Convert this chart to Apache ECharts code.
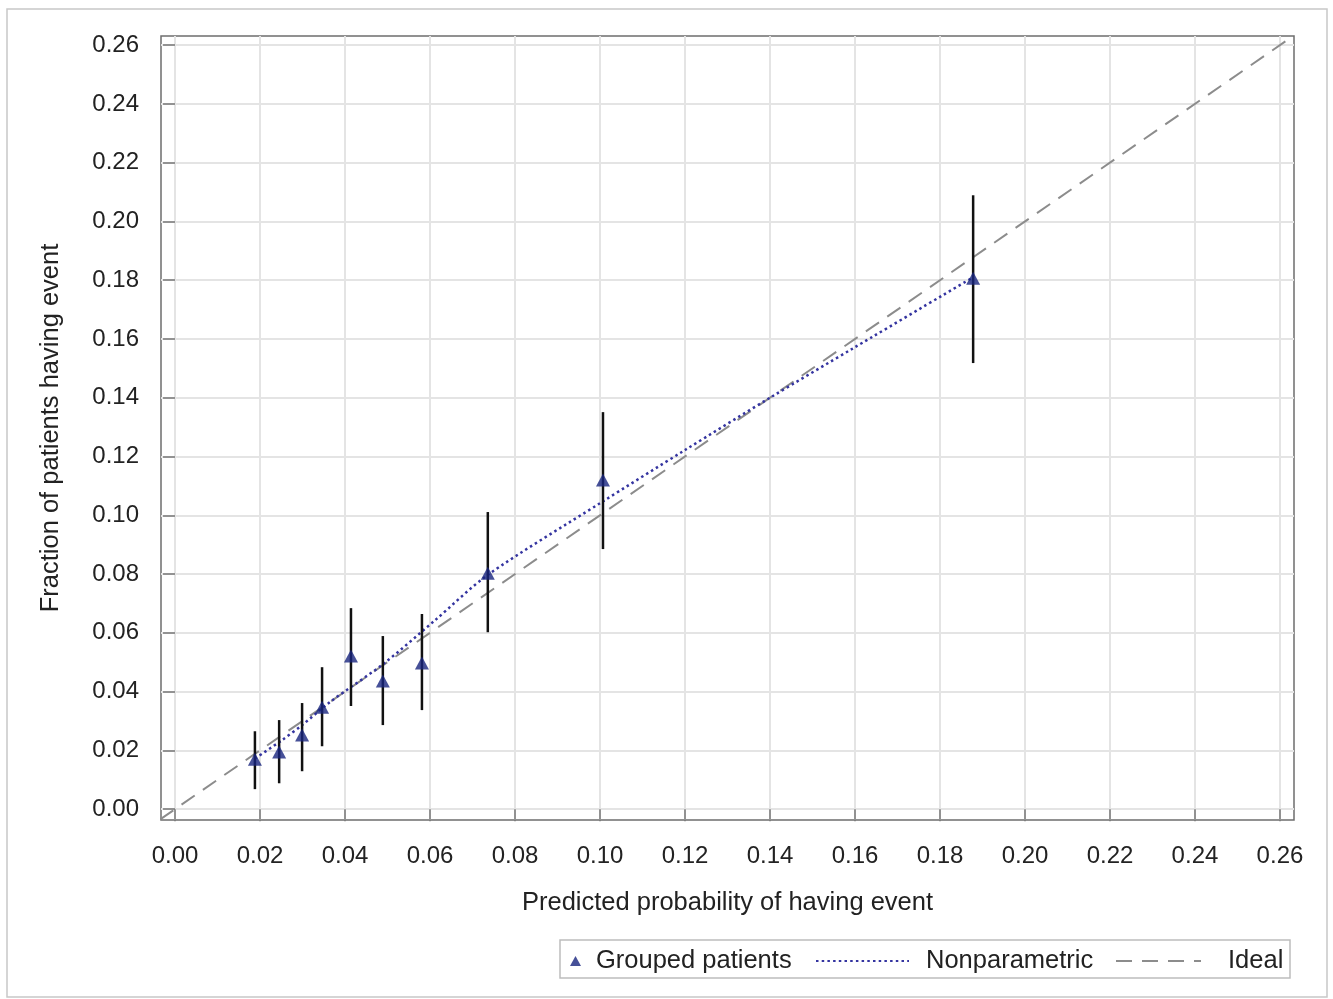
<!DOCTYPE html>
<html>
<head>
<meta charset="utf-8">
<script src="https://cdn.jsdelivr.net/npm/echarts@6/dist/echarts.min.js"></script>
<style>
  html, body { margin: 0; padding: 0; background: #fff; }
  #chart { width: 1333px; height: 999px; }
</style>
</head>
<body>
<div id="chart"></div>
<script>
// tick positions on both axes
var tickValues = [0, 0.02, 0.04, 0.06, 0.08, 0.10, 0.12, 0.14, 0.16, 0.18, 0.20, 0.22, 0.24, 0.26];

// grouped patients: predicted (x), observed fraction (y), CI limits
var groupX = [0.0188, 0.0245, 0.0299, 0.0346, 0.0414, 0.0489, 0.0581, 0.0736, 0.1007, 0.1878];
var groupY = [0.0170, 0.0194, 0.0252, 0.0347, 0.0521, 0.0436, 0.0497, 0.0803, 0.1120, 0.1807];
var groupLow = [0.0068, 0.0088, 0.0129, 0.0214, 0.0351, 0.0286, 0.0337, 0.0602, 0.0885, 0.1518];
var groupHigh = [0.0265, 0.0303, 0.0361, 0.0483, 0.0684, 0.0589, 0.0664, 0.1011, 0.1351, 0.2089];

// nonparametric smooth
var npX = [0.0188, 0.025, 0.030, 0.0365, 0.0489, 0.0612, 0.0736, 0.100, 0.120, 0.140, 0.160, 0.1878];
var npY = [0.0172, 0.0233, 0.0287, 0.0365, 0.0493, 0.0643, 0.0797, 0.1041, 0.1222, 0.1400, 0.1572, 0.1810];

// ideal diagonal
var idealX = [-0.0035, 0.2633];
var idealY = [-0.0035, 0.2633];

var FONT = 'Liberation Sans, Arial, sans-serif';

function zip(a, b) {
    var out = [];
    for (var i = 0; i < a.length; i++) out.push([a[i], b[i]]);
    return out;
}

var myChart = echarts.init(document.getElementById('chart'));

var errData = [];
for (var i = 0; i < groupX.length; i++) {
    errData.push([groupX[i], groupLow[i], groupHigh[i]]);
}

var option = {
    backgroundColor: '#fff',
    animation: false,
    grid: {
        left: 161, top: 36, width: 1133, height: 784,
        show: true, borderColor: '#6e6e6e', borderWidth: 1.5,
        containLabel: false
    },
    xAxis: {
        type: 'value',
        min: -0.0033, max: 0.2633,
        name: 'Predicted probability of having event',
        nameLocation: 'middle', nameGap: 70,
        nameTextStyle: { fontFamily: FONT, fontSize: 25.5, color: '#222' },
        axisLine: { show: false },
        axisTick: { show: true, length: 12, customValues: tickValues, lineStyle: { color: '#777', width: 1.5 } },
        axisLabel: {
            customValues: tickValues, margin: 24,
            fontFamily: FONT, fontSize: 24, color: '#222',
            formatter: function (v) { return v.toFixed(2); }
        },
        splitLine: { show: true, lineStyle: { color: '#e4e4e4', width: 2 } }
    },
    yAxis: {
        type: 'value',
        min: -0.0037, max: 0.2631,
        name: 'Fraction of patients having event',
        nameLocation: 'middle', nameGap: 97, nameRotate: 90,
        nameTextStyle: { fontFamily: FONT, fontSize: 25.5, color: '#222' },
        axisLine: { show: false },
        axisTick: { show: true, length: 12, customValues: tickValues, lineStyle: { color: '#777', width: 1.5 } },
        axisLabel: {
            customValues: tickValues, margin: 22,
            fontFamily: FONT, fontSize: 24, color: '#222',
            formatter: function (v) { return v.toFixed(2); }
        },
        splitLine: { show: true, lineStyle: { color: '#e4e4e4', width: 2 } }
    },
    legend: [{
        data: [{ name: 'Grouped patients', icon: 'triangle' }],
        left: 570, top: 948, padding: 0,
        itemWidth: 11, itemHeight: 10,
        textStyle: { fontFamily: FONT, fontSize: 25.5, color: '#222', padding: [0, 0, 0, 10] }
    }, {
        data: ['Nonparametric'],
        left: 815, top: 948, padding: 0,
        itemWidth: 93, itemHeight: 14,
        itemStyle: { opacity: 0 },
        textStyle: { fontFamily: FONT, fontSize: 25.5, color: '#222', padding: [0, 0, 0, 12] }
    }, {
        data: ['Ideal'],
        left: 1115, top: 948, padding: 0,
        itemWidth: 85, itemHeight: 14,
        itemStyle: { opacity: 0 },
        textStyle: { fontFamily: FONT, fontSize: 25.5, color: '#222', padding: [0, 0, 0, 22] }
    }],
    graphic: [{
        type: 'rect', silent: true, z: -10,
        shape: { x: 7, y: 9, width: 1320, height: 988 },
        style: { fill: 'none', stroke: '#c8c8c8', lineWidth: 1.5 }
    }, {
        type: 'rect', silent: true, z: -10,
        shape: { x: 560, y: 940, width: 730, height: 38 },
        style: { fill: 'none', stroke: '#bdbdbd', lineWidth: 1.5 }
    }],
    series: [{
        name: 'Ideal',
        type: 'line',
        data: zip(idealX, idealY),
        symbol: 'none',
        z: 2,
        lineStyle: { color: '#8c8c8c', width: 2, type: [16, 10] },
        itemStyle: { color: '#8c8c8c' }
    }, {
        name: 'Nonparametric',
        type: 'line',
        data: zip(npX, npY),
        symbol: 'none',
        smooth: 0.3,
        z: 3,
        lineStyle: { color: '#3434a0', width: 2.5, type: [2.5, 3.2] },
        itemStyle: { color: '#3434a0' }
    }, {
        name: 'Errors',
        type: 'custom',
        z: 4,
        data: errData,
        renderItem: function (params, api) {
            var lo = api.coord([api.value(0), api.value(1)]);
            var hi = api.coord([api.value(0), api.value(2)]);
            return {
                type: 'line',
                shape: { x1: lo[0], y1: lo[1], x2: hi[0], y2: hi[1] },
                style: { stroke: '#111', lineWidth: 2.5 }
            };
        }
    }, {
        name: 'Grouped patients',
        type: 'scatter',
        data: zip(groupX, groupY),
        symbol: 'triangle',
        symbolSize: [14, 13],
        z: 5,
        itemStyle: { color: '#18247e' }
    }]
};

myChart.setOption(option);
</script>
</body>
</html>
